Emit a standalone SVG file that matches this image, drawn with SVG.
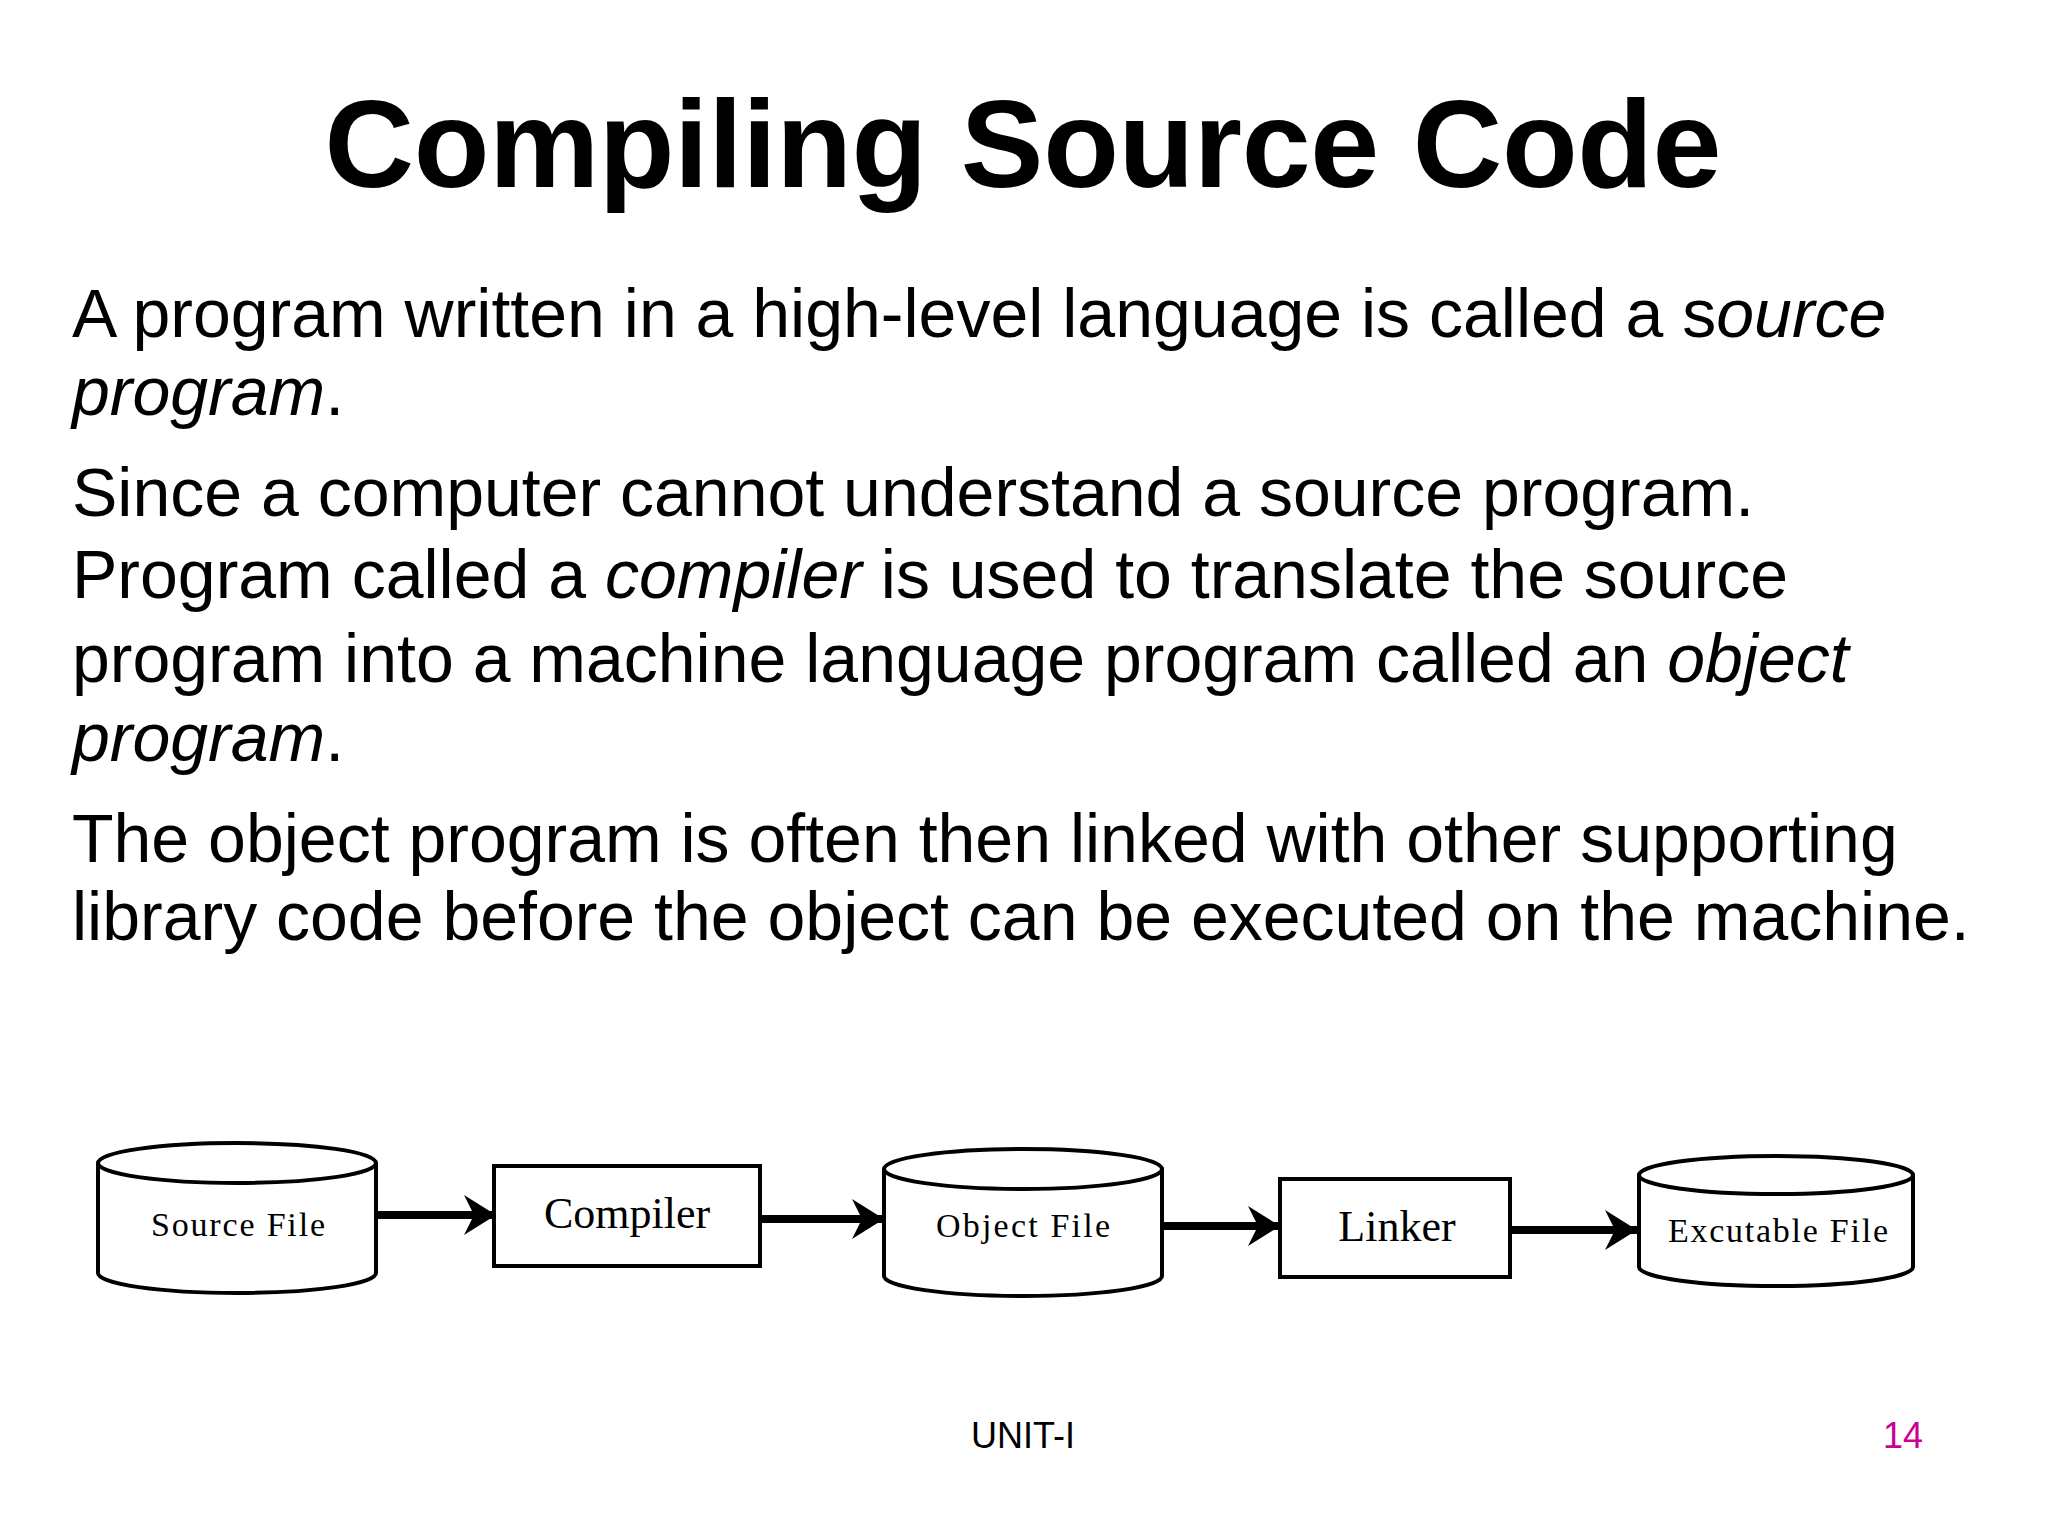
<svg xmlns="http://www.w3.org/2000/svg" width="2048" height="1536" viewBox="0 0 2048 1536">
<style>
.t{font-family:"Liberation Sans",Arial,sans-serif;font-size:68px;fill:#000}
.n{font-family:"Liberation Serif","Times New Roman",serif;fill:#000;text-anchor:middle}
.s{fill:#fff;stroke:#000;stroke-width:4}
.c{stroke:#000;stroke-width:8;fill:none;marker-end:url(#a)}
</style>
<defs><marker id="a" markerUnits="userSpaceOnUse" markerWidth="34" markerHeight="44" refX="32" refY="22" orient="auto"><path d="M0,2 L32,22 L0,42 L10,22 Z" fill="#000"/></marker></defs>
<rect width="2048" height="1536" fill="#fff"/>
<text x="1023" y="187" font-family="Liberation Sans,Arial,sans-serif" font-weight="bold" font-size="124" text-anchor="middle" textLength="1397">Compiling Source Code</text>
<text class="t" x="72" y="337">A program written in a high-level language is called a s<tspan font-style="italic">ource</tspan></text>
<text class="t" x="72" y="415"><tspan font-style="italic">program</tspan>.</text>
<text class="t" x="72" y="516">Since a computer cannot understand a source program.</text>
<text class="t" x="72" y="598">Program called a <tspan font-style="italic">compiler</tspan> is used to translate the source</text>
<text class="t" x="72" y="682">program into a machine language program called an <tspan font-style="italic">object</tspan></text>
<text class="t" x="72" y="761"><tspan font-style="italic">program</tspan>.</text>
<text class="t" x="72" y="862">The object program is often then linked with other supporting</text>
<text class="t" x="72" y="940">library code before the object can be executed on the machine.</text>
<g id="source"><path class="s" d="M98,1163 L98,1273 A139,20 0 0 0 376,1273 L376,1163"/><ellipse class="s" cx="237" cy="1163" rx="139" ry="20"/><text class="n" x="238" y="1236" font-size="34" textLength="174">Source File</text></g>
<g id="compiler"><rect class="s" x="494" y="1166" width="266" height="100"/><text class="n" x="627" y="1228" font-size="44">Compiler</text></g>
<g id="object"><path class="s" d="M884,1169 L884,1276 A139,20 0 0 0 1162,1276 L1162,1169"/><ellipse class="s" cx="1023" cy="1169" rx="139" ry="20"/><text class="n" x="1023" y="1237" font-size="34" textLength="174">Object File</text></g>
<g id="linker"><rect class="s" x="1280" y="1179" width="230" height="98"/><text class="n" x="1397" y="1241" font-size="44">Linker</text></g>
<g id="exe"><path class="s" d="M1639,1175 L1639,1267 A137,19 0 0 0 1913,1267 L1913,1175"/><ellipse class="s" cx="1776" cy="1175" rx="137" ry="19"/><text class="n" x="1778" y="1242" font-size="34" textLength="220">Excutable File</text></g>
<g id="connectors">
<line class="c" x1="376" y1="1215" x2="496" y2="1215"/>
<line class="c" x1="760" y1="1219" x2="884" y2="1219"/>
<line class="c" x1="1162" y1="1226" x2="1280" y2="1226"/>
<line class="c" x1="1510" y1="1230" x2="1637" y2="1230"/>
</g>
<text x="1023" y="1448" font-family="Liberation Sans,Arial,sans-serif" font-size="36" text-anchor="middle">UNIT-I</text>
<text x="1903" y="1448" font-family="Liberation Sans,Arial,sans-serif" font-size="36" text-anchor="middle" fill="#CC0099">14</text>
</svg>
